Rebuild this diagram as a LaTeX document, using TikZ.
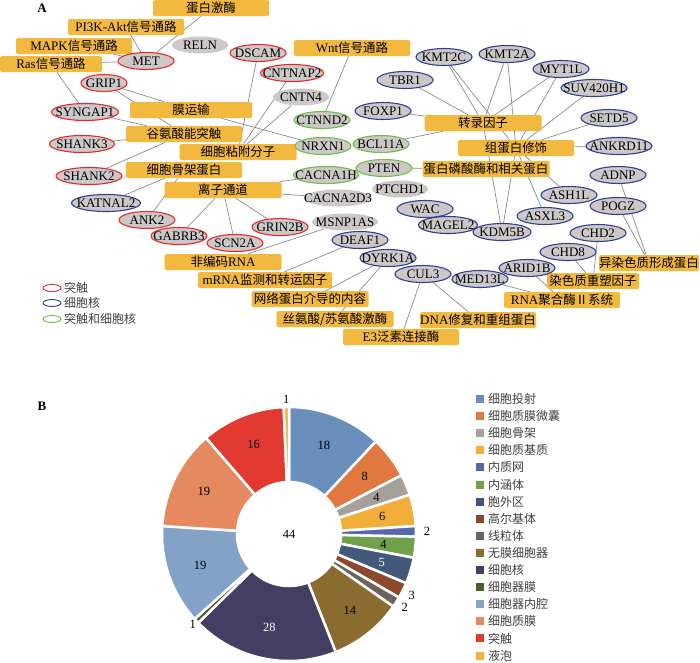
\documentclass[tikz,border=0pt]{standalone}
\usepackage{fontspec}
\setmainfont{Liberation Serif}
\newfontfamily\zh[Scale=0.96]{Noto Sans CJK SC}
\usetikzlibrary{shapes.geometric,backgrounds}
\definecolor{boxfill}{RGB}{243,184,62}
\definecolor{genefill}{RGB}{204,200,200}
\definecolor{syn}{RGB}{232,40,40}
\definecolor{nuc}{RGB}{50,62,150}
\definecolor{both}{RGB}{110,190,70}
\definecolor{linkgray}{RGB}{140,140,140}
\definecolor{legtxt}{RGB}{64,64,64}
\definecolor{proj}{RGB}{106,142,187}
\definecolor{cav}{RGB}{224,120,64}
\definecolor{cysk}{RGB}{165,160,155}
\definecolor{cytm}{RGB}{243,174,58}
\definecolor{er}{RGB}{84,104,176}
\definecolor{endo}{RGB}{113,160,74}
\definecolor{exr}{RGB}{68,89,122}
\definecolor{golgi}{RGB}{139,74,43}
\definecolor{mito}{RGB}{109,97,91}
\definecolor{mless}{RGB}{138,108,48}
\definecolor{nucl}{RGB}{68,63,98}
\definecolor{omem}{RGB}{74,94,42}
\definecolor{olum}{RGB}{132,162,200}
\definecolor{pmem}{RGB}{229,138,96}
\definecolor{synp}{RGB}{226,58,48}
\definecolor{vac}{RGB}{244,180,60}
\newcommand{\rinner}{52pt}
\newcommand{\router}{127pt}
\newcommand{\cat}[4]{\node[catbox, minimum width=#4pt] (#1) at (#2) {#3};}
\newcommand{\gene}[4][56]{\node[genenode, draw=#4, minimum width=#1pt] (#2) at (#3) {#2};}
\newcommand{\ringslice}[3]{\filldraw[fill=#3, draw=white, line width=2.5pt, line join=bevel]
  (90-#1*2.4:\rinner) arc[start angle=90-#1*2.4, end angle=90-#2*2.4, radius=\rinner]
  -- (90-#2*2.4:\router) arc[start angle=90-#2*2.4, end angle=90-#1*2.4, radius=\router] -- cycle;}

\begin{document}
\begin{tikzpicture}[x=1pt, y=-1pt,
  catbox/.style={rectangle, rounded corners=1.5pt, fill=boxfill, inner sep=0pt, minimum height=16pt, font=\fontsize{13}{15}\selectfont},
  genenode/.style={ellipse, fill=genefill, line width=1.1pt, inner xsep=-20pt, inner ysep=-10pt, minimum height=17pt, font=\fontsize{13}{15}\selectfont},
  link/.style={draw=linkgray, line width=0.7pt},
  legell/.style={ellipse, line width=0.9pt, inner sep=-10pt, minimum width=18pt, minimum height=7pt},
  legtext/.style={anchor=west, inner sep=0pt, text=legtxt, font=\fontsize{12.5}{14}\selectfont},
  legsq/.style={rectangle, inner sep=0pt, minimum size=8pt},
  num/.style={inner sep=0pt, font=\fontsize{12.5}{14}\selectfont}]
\useasboundingbox (0,0) rectangle (700,662);

\node[font=\bfseries\fontsize{13}{15}\selectfont] (labA) at (42,8) {A};
\node[font=\bfseries\fontsize{13}{15}\selectfont] (labB) at (42,406) {B};

% categories
\cat{kin}{211,8}{\zh 蛋白激酶}{116}
\cat{pik}{126,27}{PI3K-Akt{\zh 信号通路}}{116}
\cat{mapk}{74,46}{MAPK{\zh 信号通路}}{116}
\cat{ras}{51,64}{Ras{\zh 信号通路}}{102}
\cat{wnt}{352,48}{Wnt{\zh 信号通路}}{116}
\cat{memt}{191,110}{\zh 膜运输}{122}
\cat{glu}{184,134}{\zh 谷氨酸能突触}{116}
\cat{adh}{238,152}{\zh 细胞粘附分子}{117}
\cat{cyto}{184,170}{\zh 细胞骨架蛋白}{116}
\cat{ion}{223,190}{\zh 离子通道}{117}
\cat{ncrna}{223,262}{{\zh 非编码}RNA}{117}
\cat{mrna}{265,280}{mRNA{\zh 监测和转运因子}}{134}
\cat{net}{310,299}{\zh 网络蛋白介导的内容}{117}
\cat{stk}{335,319}{\zh 丝氨酸/苏氨酸激酶}{117}
\cat{ubq}{401,337}{E3{\zh 泛素连接酶}}{116}
\cat{dna}{478,320}{DNA{\zh 修复和重组蛋白}}{116}
\cat{rnap}{562,300}{RNA{\zh 聚合酶Ⅱ系统}}{116}
\cat{remod}{593,281}{\zh 染色质重塑因子}{92}
\cat{hetero}{649,263}{\zh 异染色质形成蛋白}{100}
\cat{phos}{486,169}{\zh 蛋白磷酸酶和相关蛋白}{127}
\cat{hist}{516,148}{\zh 组蛋白修饰}{116}
\cat{tf}{483,123}{\zh 转录因子}{117}

% genes
\gene{MET}{146,61}{syn}
\gene{DSCAM}{258,53}{syn}
\gene[63]{CNTNAP2}{292,73}{syn}
\gene[46]{GRIP1}{104,83}{syn}
\gene[67]{SYNGAP1}{85,112}{syn}
\gene[65]{SHANK3}{82,144}{syn}
\gene[66]{SHANK2}{89,176}{syn}
\gene{ANK2}{147,220}{syn}
\gene{GABRB3}{179,236}{syn}
\gene{SCN2A}{235,243}{syn}
\gene{GRIN2B}{280,227}{syn}
\gene[69]{KATNAL2}{106,203}{nuc}
\gene{TBR1}{405,80}{nuc}
\gene{KMT2C}{444,57}{nuc}
\gene{KMT2A}{507,54}{nuc}
\gene{MYT1L}{561,69}{nuc}
\gene[66]{SUV420H1}{594,88}{nuc}
\gene{SETD5}{609,118}{nuc}
\gene[66]{ANKRD11}{619,146}{nuc}
\gene{FOXP1}{383,111}{nuc}
\gene{ADNP}{618,175}{nuc}
\gene{POGZ}{618,206}{nuc}
\gene{ASH1L}{569,195}{nuc}
\gene{ASXL3}{545,216}{nuc}
\gene[58]{KDM5B}{502,232}{nuc}
\gene[59]{MAGEL2}{448,225}{nuc}
\gene{WAC}{425,209}{nuc}
\gene{CHD2}{598,233}{nuc}
\gene{CHD8}{568,252}{nuc}
\gene{ARID1B}{527,268}{nuc}
\gene{MED13L}{480,279}{nuc}
\gene{CUL3}{423,274}{nuc}
\gene{DYRK1A}{388,258}{nuc}
\gene{DEAF1}{360,240}{nuc}
\gene{CTNND2}{322,120}{both}
\gene{NRXN1}{323,146}{both}
\gene{BCL11A}{381,144}{both}
\gene{PTEN}{384,168}{both}
\gene[65]{CACNA1H}{326,175}{both}
\gene{RELN}{200,45}{none}
\gene{CNTN4}{301,97}{none}
\gene[68]{CACNA2D3}{338,198}{none}
\gene{PTCHD1}{400,189}{none}
\gene[66]{MSNP1AS}{345,222}{none}

\begin{pgfonlayer}{background}
\foreach \a/\b in {kin/MET, pik/MET, mapk/MET, ras/MET, ras/SYNGAP1,
    GRIP1/memt, GRIP1/glu, memt/NRXN1, SYNGAP1/glu, SHANK3/glu, SHANK2/glu,
    DSCAM/adh, CNTNAP2/adh, CNTN4/adh, NRXN1/adh, CTNND2/wnt,
    KATNAL2/cyto, ANK2/cyto, GABRB3/ion, SCN2A/ion, GRIN2B/ion, CACNA1H/ion, CACNA2D3/ion,
    MSNP1AS/ncrna, DEAF1/mrna, DYRK1A/net, DYRK1A/stk, CUL3/ubq, CUL3/dna,
    MED13L/rnap, ARID1B/rnap, CHD8/remod, CHD2/remod, POGZ/hetero, ADNP/hetero,
    TBR1/tf, FOXP1/tf, BCL11A/tf, KMT2C/tf, KMT2C/hist, KMT2A/tf, KMT2A/hist,
    MYT1L/tf, MYT1L/hist, SUV420H1/hist, SETD5/hist, ANKRD11/hist,
    PTEN/phos, ASH1L/hist, ASXL3/hist, KDM5B/tf, KDM5B/hist}
  \draw[link] (\a) -- (\b);
\end{pgfonlayer}

% legend A
\node[legell, draw=syn] (ks) at (52,288) {};
\node[legtext] (ts) at (64,288) {\zh 突触};
\node[legell, draw=nuc] (kn) at (52,303) {};
\node[legtext] (tn) at (64,303) {\zh 细胞核};
\node[legell, draw=both] (kb) at (52,319) {};
\node[legtext] (tb) at (64,319) {\zh 突触和细胞核};

% donut B
\begin{scope}[shift={(289,534)}]
\foreach \s/\e/\c/\rr/\tc [count=\i] in {0/18/proj/95/black, 18/26/cav/95/black, 26/30/cysk/95/black,
    30/36/cytm/95/black, 36/38/er/138/black, 38/42/endo/95/black, 42/47/exr/97/white,
    47/50/golgi/137/black, 50/52/mito/137/black, 52/66/mless/98/black, 66/94/nucl/95/white,
    94/95/omem/132/black, 95/114/olum/94/black, 114/133/pmem/95/black, 133/149/synp/96/black,
    149/150/vac/135/black} {
  \ringslice{\s}{\e}{\c}
  \pgfmathtruncatemacro\v{\e-\s}
  \node[num, text=\tc] (v\i) at ({90-(\s+\e)*1.2}:\rr pt) {\v};
}
\node[num] (tot) at (0,0) {44};
\end{scope}

% legend B
\foreach \t/\c [count=\i from 0] in {细胞投射/proj, 细胞质膜微囊/cav, 细胞骨架/cysk, 细胞质基质/cytm,
    内质网/er, 内涵体/endo, 胞外区/exr, 高尔基体/golgi, 线粒体/mito, 无膜细胞器/mless,
    细胞核/nucl, 细胞器膜/omem, 细胞器内腔/olum, 细胞质膜/pmem, 突触/synp, 液泡/vac} {
  \node[legsq, fill=\c] (sq\i) at (480, 399+17.1*\i) {};
  \node[legtext] (lt\i) at (488, 399+17.1*\i) {\zh \t};
}
\end{tikzpicture}
\end{document}
